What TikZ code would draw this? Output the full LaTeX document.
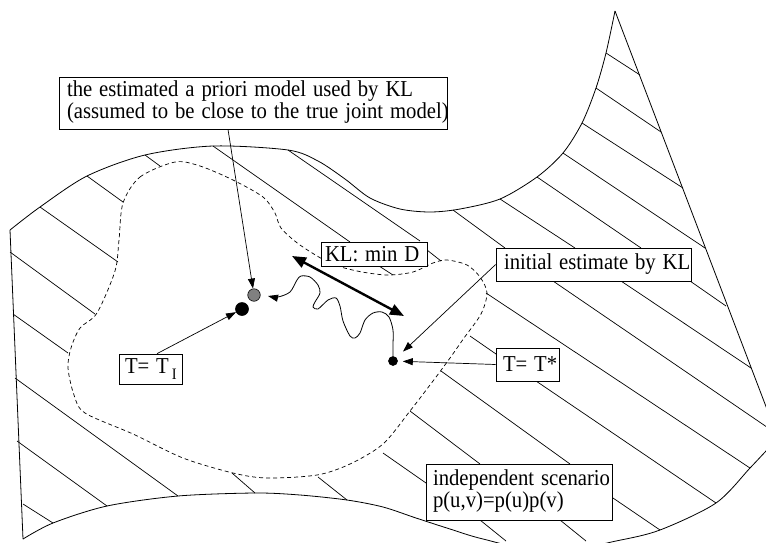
\documentclass[tikz,border=0pt]{standalone}
\usepackage{fontspec}
\setmainfont{Liberation Serif}
\usetikzlibrary{arrows.meta,calc}
\newcommand\vstr[1]{\scalebox{1}[1.1]{#1}}
\begin{document}
\begin{tikzpicture}[x=1pt,y=-1pt,
  hatch/.style={line width=0.7pt},
  outline/.style={line width=0.8pt},
  region/.style={line width=0.7pt, dash pattern=on 4pt off 3pt},
  box/.style={draw, fill=white, line width=0.7pt, inner ysep=0pt, align=left,
    font=\fontsize{20.7}{19.6}\selectfont},
  arr/.style={line width=0.7pt, -{Triangle[length=10pt,width=7pt]}},
  dbl/.style={line width=2.4pt, {Triangle[length=14pt,width=11pt]}-{Triangle[length=14pt,width=11pt]}},
  dotn/.style={circle, draw, line width=0.6pt, inner sep=0pt}]
\useasboundingbox (0,0) rectangle (766,542);
\clip (0,0) rectangle (766,542);
% hatch segments
\draw[hatch]
 (606,53)--(640,75)
 (596,88)--(661,132)
 (582,123)--(683,188)
 (563,153)--(705,248)
 (537,177)--(641,248) (690,281)--(726,306)
 (500,199)--(575,248) (621,281)--(751,368)
 (453,210)--(505,248) (553,281)--(780,436)
 (288,150)--(420,241) (427,250)--(441,261) (486,293)--(750,468)
 (213,146)--(350,242) (379,266)--(393,275) (470,336)--(496,354) (536,381)--(716,503)
 (145,155)--(160,166) (441,371)--(570,464) (613,498)--(660,530)
 (87,176)--(123,202) (410,411)--(480,464) (560,520)--(586,541)
 (40,207)--(118,262) (383,453)--(426,483) (480,520)--(506,541)
 (10,252)--(95,314) (318,477)--(347,500)
 (13,314)--(68,353) (232,473)--(255,493)
 (15,378)--(178,496)
 (17,441)--(107,506)
 (23,504)--(53,523);
% surface outline
\draw[outline] plot[smooth] coordinates {(10,230) (40,207) (87,176) (145,155) (213,146) (288,150) (318,161) (345,179) (370,198) (400,209) (430,212) (460,209) (500,199) (537,177) (563,153) (582,123) (596,88) (606,53) (615,11)};
\draw[outline] (615,11) -- (778,438);
\draw[outline] plot[smooth] coordinates {(782,434) (766,451) (750,468) (716,503) (660,530) (616,541) (550,553) (483,539) (450,529) (416,518) (383,507) (347,500) (300,495) (255,493) (178,496) (107,506) (53,523) (23,539)};
\draw[outline] (23,539) -- (10,230);
% dashed region
\draw[region] plot[smooth cycle] coordinates {(123,203) (140,177) (175,162) (200,166) (233,180) (263,197) (275,213) (281,228) (300,245) (330,263) (357,271) (387,275) (413,272) (433,263) (447,260) (467,265) (480,277) (487,293) (481,314) (464,338) (450,358) (433,381) (410,411) (383,444) (350,464) (317,475) (267,478) (233,473) (183,458) (133,434) (85,413) (74,395) (68,368) (71,348) (80,328) (97,313) (115,271) (119,240)};
% boxes
\node[box, inner xsep=8pt, text width=372pt, minimum height=52pt] (B1) at (253,103)
  {\vstr{\begin{tabular}{@{}l@{}}the estimated a priori model used by KL\\(assumed to be close to the true joint model)\end{tabular}}};
\node[box, inner xsep=4pt, text width=98pt, minimum height=24pt] (B2) at (374,254) {\vstr{KL: min D}};
\node[box, inner xsep=8pt, text width=179pt, minimum height=33pt] (B3) at (593.5,264.5) {\vstr{initial estimate by KL}};
\node[box, inner xsep=7pt, text width=49pt, minimum height=33pt] (B4) at (527.5,364.5) {\vstr{T= T*}};
\node[box, inner xsep=6pt, text width=51pt, minimum height=30pt] (B5) at (150.5,369)
  {\vstr{T= T\hspace{3pt}\raisebox{-5pt}{\fontsize{14.5}{15}\selectfont I}}};
\node[box, inner xsep=7pt, text width=172pt, minimum height=56pt] (B6) at (519,492)
  {\vstr{\begin{tabular}{@{}l@{}}independent scenario\\p(u,v)=p(u)p(v)\end{tabular}}};
% dots
\node[dotn, fill=gray, minimum size=12.5pt] (g) at (254,295) {};
\node[dotn, fill=black, minimum size=13pt] (b) at (242,309) {};
\node[dotn, fill=black, minimum size=9pt] (s) at (393,361) {};
% connectors
\draw[arr] ([xshift=-25pt]B1.south) -- (g);
\draw[arr] ([xshift=6.5pt]B5.north) -- (b);
\draw[arr, shorten >=5pt] (B4.west) -- (s);
\draw[arr, shorten >=9pt] (B3.west) -- (s);
\coordinate (wend) at (268,296);
\draw[line width=0.8pt, -{Triangle[length=10pt,width=7pt]}] plot[smooth] coordinates {(s.north) (393,345) (393,330) (389,317) (382,312) (373,313) (365,320) (360,333) (355,338) (350,336) (343,321) (340,306) (336,298) (328,300) (318,309) (313,307) (315,302) (320,293) (318,285) (310,277) (301,276) (297,280) (290,292) (278,297) (wend)};
\coordinate (d1) at (292,256);
\coordinate (d2) at (404,316);
\draw[dbl] (d1) -- (d2);
\end{tikzpicture}
\end{document}
